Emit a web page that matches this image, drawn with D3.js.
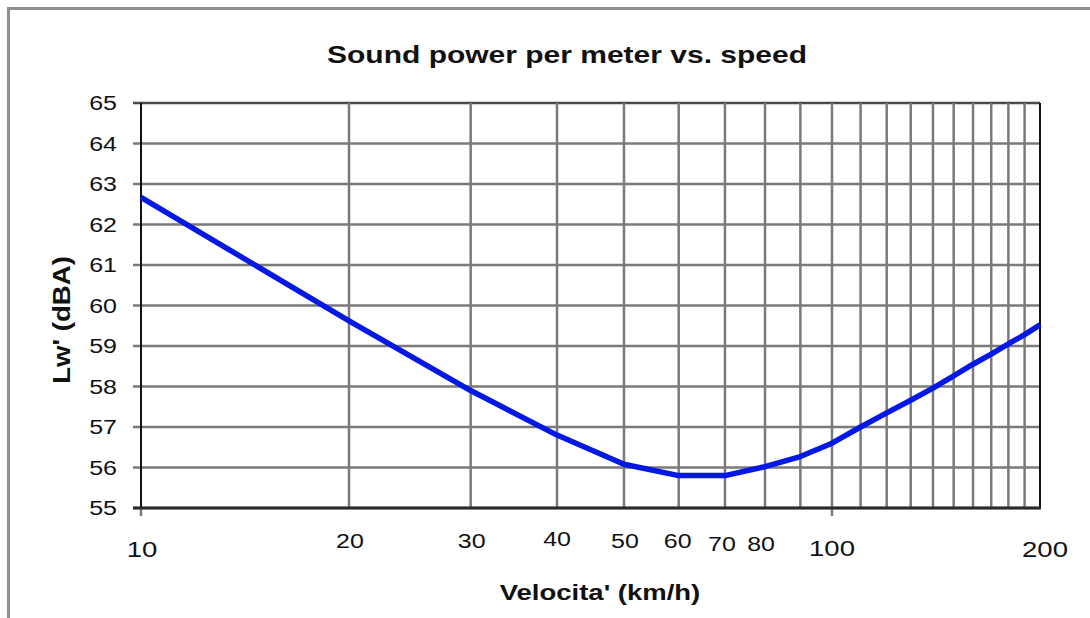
<!DOCTYPE html>
<html>
<head>
<meta charset="utf-8">
<script src="https://cdn.jsdelivr.net/npm/d3@7/dist/d3.min.js"></script>
<style>
  html, body { margin: 0; padding: 0; background: #ffffff; }
  svg { display: block; }
  text { font-family: "Liberation Sans", Arial, Helvetica, sans-serif; fill: #111; }
</style>
</head>
<body>
<svg id="chart" width="1090" height="618"></svg>
<script>
// Speed samples (km/h) and the sound power level per meter at each speed (dBA)
const speeds = [10, 20, 30, 40, 50, 60, 70, 80, 90, 100, 110, 120, 130, 140, 150, 160, 170, 180, 190, 200];
const levels = [62.67, 59.62, 57.9, 56.8, 56.08, 55.8, 55.8, 56.02, 56.27, 56.6, 57.0, 57.35, 57.66, 57.96, 58.26, 58.55, 58.8, 59.05, 59.28, 59.52];

// Axis ticks
const xLabelTicks = [10, 20, 30, 40, 50, 60, 70, 80, 100, 200];
const xGridTicks = [10, 20, 30, 40, 50, 60, 70, 80, 90, 100, 110, 120, 130, 140, 150, 160, 170, 180, 190, 200];
const xMajorTicks = [10, 100];
const yTicks = [55, 56, 57, 58, 59, 60, 61, 62, 63, 64, 65];

const titleText = "Sound power per meter vs. speed";
const xTitle = "Velocita' (km/h)";
const yTitle = "Lw' (dBA)";

const svg = d3.select("#chart");
const plot = { left: 141, right: 1040, top: 103, bottom: 508 };
const wide = 1.25; // horizontal stretch of the lettering

const x = d3.scaleLog().domain([10, 200]).range([plot.left, plot.right]);
const y = d3.scaleLinear().domain([55, 65]).range([plot.bottom, plot.top]);

// outer chart frame (runs off the right and bottom edges)
svg.append("rect")
  .attr("x", 8.5).attr("y", 8.5)
  .attr("width", 1200).attr("height", 800)
  .attr("fill", "#ffffff")
  .attr("stroke", "#8f8f8f").attr("stroke-width", 3);

// title
svg.append("text")
  .attr("transform", `translate(567,63) scale(${wide},1)`)
  .attr("text-anchor", "middle")
  .attr("font-size", 24).attr("font-weight", "bold")
  .text(titleText);

// horizontal grid lines, extended left as tick marks
const gridColor = "#7a7a7a";
svg.append("g").selectAll("line").data(yTicks).join("line")
  .attr("x1", plot.left - 8).attr("x2", plot.right)
  .attr("y1", d => y(d)).attr("y2", d => y(d))
  .attr("stroke", d => d === 65 ? "#4a4a4a" : gridColor)
  .attr("stroke-width", 2.5);

// vertical grid lines
svg.append("g").selectAll("line").data(xGridTicks.filter(d => d > 10 && d < 200)).join("line")
  .attr("x1", d => x(d)).attr("x2", d => x(d))
  .attr("y1", plot.top).attr("y2", plot.bottom)
  .attr("stroke", gridColor)
  .attr("stroke-width", 2.5);

// major tick marks below the x axis
svg.append("g").selectAll("line").data(xMajorTicks).join("line")
  .attr("x1", d => x(d)).attr("x2", d => x(d))
  .attr("y1", plot.bottom).attr("y2", plot.bottom + 8)
  .attr("stroke", gridColor)
  .attr("stroke-width", 2.5);

// plot frame
svg.append("line")
  .attr("x1", plot.left).attr("x2", plot.left)
  .attr("y1", plot.top).attr("y2", plot.bottom)
  .attr("stroke", "#111").attr("stroke-width", 2);
svg.append("line")
  .attr("x1", plot.right).attr("x2", plot.right)
  .attr("y1", plot.top).attr("y2", plot.bottom)
  .attr("stroke", "#111").attr("stroke-width", 2);
svg.append("line")
  .attr("x1", plot.left - 8).attr("x2", plot.right + 1)
  .attr("y1", plot.bottom).attr("y2", plot.bottom)
  .attr("stroke", "#2a2a2a").attr("stroke-width", 3);

// y tick labels
svg.append("g").selectAll("text").data(yTicks).join("text")
  .attr("transform", d => `translate(117,${y(d)}) scale(${wide},1)`)
  .attr("dy", "0.35em")
  .attr("text-anchor", "end")
  .attr("font-size", 20)
  .text(d => d);

// x tick labels (the decade labels sit lower and larger)
const labelNudge = { 10: [1, 49], 20: [1, 40], 30: [1, 40], 40: [0, 38], 50: [1, 40], 60: [-1, 40],
                     70: [-3, 43], 80: [-4, 43], 100: [0, 48], 200: [5, 49] };
const isDecade = d => d === 10 || d === 100 || d === 200;
svg.append("g").selectAll("text").data(xLabelTicks).join("text")
  .attr("transform", d => `translate(${x(d) + labelNudge[d][0]},${plot.bottom + labelNudge[d][1]}) scale(${wide},1)`)
  .attr("text-anchor", "middle")
  .attr("font-size", d => isDecade(d) ? 22 : 20)
  .text(d => d);

// axis titles
svg.append("text")
  .attr("transform", `translate(600,600) scale(${wide},1)`)
  .attr("text-anchor", "middle")
  .attr("font-size", 22).attr("font-weight", "bold")
  .text(xTitle);

svg.append("text")
  .attr("transform", "translate(70,320) rotate(-90) scale(1.15,1)")
  .attr("text-anchor", "middle")
  .attr("font-size", 24).attr("font-weight", "bold")
  .text(yTitle);

// the curve
const line = d3.line()
  .x((d, i) => x(speeds[i]))
  .y(d => y(d));

svg.append("path")
  .datum(levels)
  .attr("d", line)
  .attr("fill", "none")
  .attr("stroke", "#0418e4")
  .attr("stroke-width", 5.5)
  .attr("stroke-linejoin", "round")
  .attr("stroke-linecap", "butt");
</script>
</body>
</html>
